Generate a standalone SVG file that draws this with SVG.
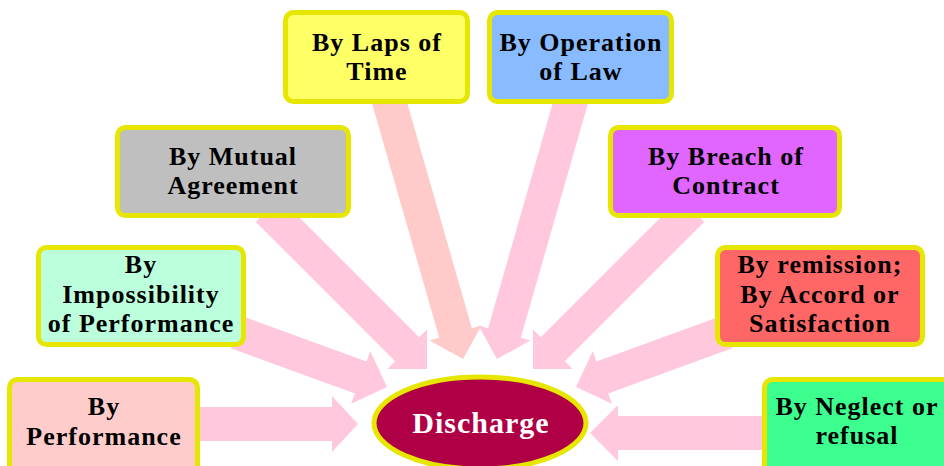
<svg xmlns="http://www.w3.org/2000/svg" width="944" height="466" viewBox="0 0 944 466">
<style>
.box{stroke:#E6E600;stroke-width:5}
.lbl{font-family:"Liberation Serif","Times New Roman",serif;font-weight:bold;font-size:26px;letter-spacing:1px;fill:#000;text-anchor:middle}
.arr{fill:#FFC8DD}
.arr2{fill:#FFCACA}
</style>
<rect width="944" height="466" fill="#FFFFFF"/>
<g id="connectors">
  <path class="arr" transform="translate(358,424)" d="M-170,-17 L-26,-17 L-26,-28 L0,0 L-26,28 L-26,17 L-170,17 Z"/>
  <path class="arr" transform="translate(590,433) rotate(180)" d="M-180,-17 L-28,-17 L-28,-28 L0,0 L-28,28 L-28,17 L-180,17 Z"/>
  <path class="arr" transform="translate(387,387) rotate(20)" d="M-160,-17 L-28,-17 L-28,-28 L0,0 L-28,28 L-28,17 L-160,17 Z"/>
  <path class="arr" transform="translate(576,387) rotate(160)" d="M-160,-17 L-28,-17 L-28,-28 L0,0 L-28,28 L-28,17 L-160,17 Z"/>
  <path class="arr" transform="translate(427,369) rotate(45)" d="M-225,-17 L-28,-17 L-28,-28 L0,0 L-28,28 L-28,17 L-225,17 Z"/>
  <path class="arr" transform="translate(533,369) rotate(135)" d="M-225,-17 L-28,-17 L-28,-28 L0,0 L-28,28 L-28,17 L-225,17 Z"/>
  <path class="arr2" transform="translate(463,359) rotate(74)" d="M-275,-17 L-27,-17 L-27,-27 L0,0 L-27,27 L-27,17 L-275,17 Z"/>
  <path class="arr" transform="translate(497,359) rotate(106)" d="M-275,-17 L-27,-17 L-27,-27 L0,0 L-27,27 L-27,17 L-275,17 Z"/>
</g>
<g id="laps">
  <rect class="box" x="285.5" y="12.5" width="182" height="89" rx="8" fill="#FFFF66"/>
  <text class="lbl" x="377" y="51">By Laps of</text>
  <text class="lbl" x="377" y="80">Time</text>
</g>
<g id="operation">
  <rect class="box" x="489.5" y="12.5" width="182" height="89" rx="8" fill="#88BBFF"/>
  <text class="lbl" x="581" y="51">By Operation</text>
  <text class="lbl" x="581" y="80">of Law</text>
</g>
<g id="mutual">
  <rect class="box" x="117.5" y="127.5" width="231" height="88" rx="8" fill="#BFBFBF"/>
  <text class="lbl" x="233" y="165">By Mutual</text>
  <text class="lbl" x="233" y="194">Agreement</text>
</g>
<g id="breach">
  <rect class="box" x="610.5" y="127.5" width="229" height="88" rx="8" fill="#E066FF"/>
  <text class="lbl" x="726" y="165">By Breach of</text>
  <text class="lbl" x="726" y="194">Contract</text>
</g>
<g id="impossibility">
  <rect class="box" x="38.5" y="247.5" width="205" height="97" rx="8" fill="#BBFFDD"/>
  <text class="lbl" x="141" y="273">By</text>
  <text class="lbl" x="141" y="303">Impossibility</text>
  <text class="lbl" x="141" y="332">of Performance</text>
</g>
<g id="remission">
  <rect class="box" x="717.5" y="247.5" width="205" height="97" rx="8" fill="#FF6666"/>
  <text class="lbl" x="820" y="273">By remission;</text>
  <text class="lbl" x="820" y="303">By Accord or</text>
  <text class="lbl" x="820" y="332">Satisfaction</text>
</g>
<g id="performance">
  <rect class="box" x="9.5" y="379.5" width="188" height="95" rx="8" fill="#FFCCCC"/>
  <text class="lbl" x="104" y="415">By</text>
  <text class="lbl" x="104" y="445">Performance</text>
</g>
<g id="neglect">
  <rect class="box" x="764.5" y="379.5" width="190" height="95" rx="8" fill="#3CFF90"/>
  <text class="lbl" x="857" y="415">By Neglect or</text>
  <text class="lbl" x="857" y="444">refusal</text>
</g>
<g id="discharge">
  <ellipse cx="480" cy="423" rx="106" ry="46" fill="#AF0046" stroke="#E6E600" stroke-width="5"/>
  <text x="481" y="433" font-family="'Liberation Serif','Times New Roman',serif" font-weight="bold" font-size="30" letter-spacing="1" fill="#FFFFFF" text-anchor="middle">Discharge</text>
</g>
</svg>
